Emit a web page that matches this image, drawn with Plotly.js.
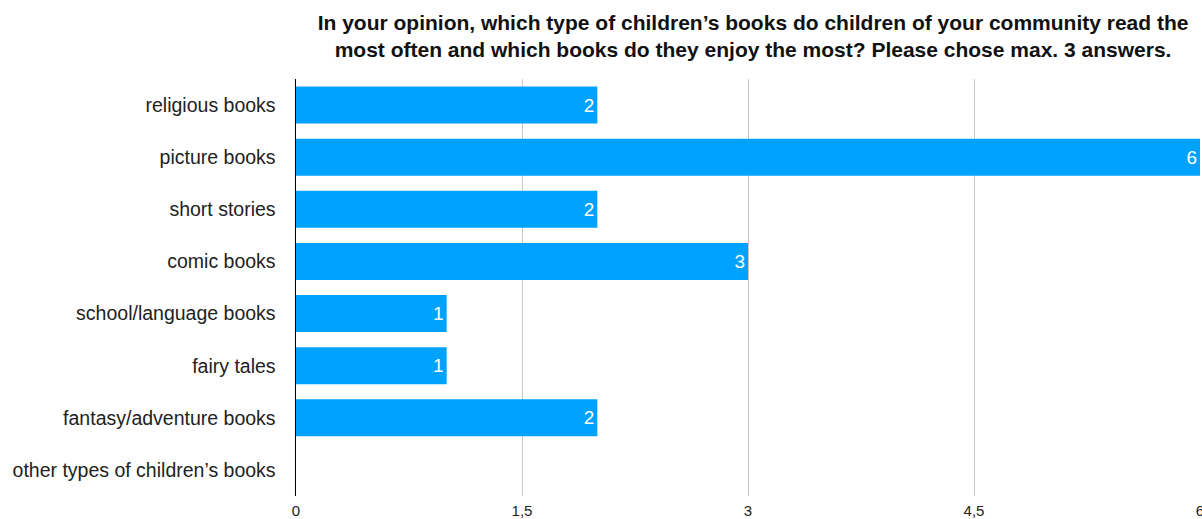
<!DOCTYPE html>
<html>
<head>
<meta charset="utf-8">
<script src="https://cdn.plot.ly/plotly-3.0.1.min.js"></script>
<style>html,body{margin:0;padding:0;background:#fff;}#chart{width:1202px;height:519px;}</style>
</head>
<body>
<div id="chart"></div>
<script>
const categories = ["religious books","picture books","short stories","comic books","school/language books","fairy tales","fantasy/adventure books","other types of children’s books"];
const values = [2, 6, 2, 3, 1, 1, 2, 0];
const barLabels = ["2","6","2","3","1","1","2",""];
const xTicks = [0, 1.5, 3, 4.5, 6];
const xTickLabels = ["0","1,5","3","4,5","6"];
const titleText = "In your opinion, which type of children’s books do children of your community read the<br>most often and which books do they enjoy the most? Please chose max. 3 answers.";

const font = '"Liberation Sans", Arial, Helvetica, sans-serif';

Plotly.newPlot('chart', [{
  type: 'bar',
  orientation: 'h',
  y: categories,
  x: values,
  text: barLabels,
  textposition: 'inside',
  insidetextanchor: 'end',
  textfont: {color: '#ffffff', size: 19, family: font},
  marker: {color: '#00A2FF'},
  hoverinfo: 'none',
  cliponaxis: false
}], {
  width: 1202, height: 519,
  margin: {l: 296, r: 2, t: 79, b: 23},
  paper_bgcolor: '#fff', plot_bgcolor: '#fff',
  bargap: 0.29,
  showlegend: false,
  title: {text: titleText, font: {family: font, size: 21, color: '#111', weight: 'bold'},
          x: 0.6265, xanchor: 'center', xref: 'container', y: 0.942, yanchor: 'top', yref: 'container'},
  xaxis: {range: [0, 6], tickvals: xTicks, ticktext: xTickLabels, showgrid: true, gridcolor: '#c8c8c8', gridwidth: 1,
          zeroline: false, showline: false, ticks: 'outside', ticklen: 1, tickcolor: 'rgba(0,0,0,0)',
          ticklabeloverflow: 'allow', automargin: false,
          tickfont: {family: font, size: 15, color: '#222'}, fixedrange: true},
  yaxis: {autorange: 'reversed', showline: true, linecolor: '#000', linewidth: 1.5, ticks: 'outside', ticklen: 15, tickcolor: 'rgba(0,0,0,0)',
          tickfont: {family: font, size: 19.5, color: '#222'}, showgrid: false, zeroline: false, fixedrange: true}
}, {staticPlot: true});
</script>
</body>
</html>
